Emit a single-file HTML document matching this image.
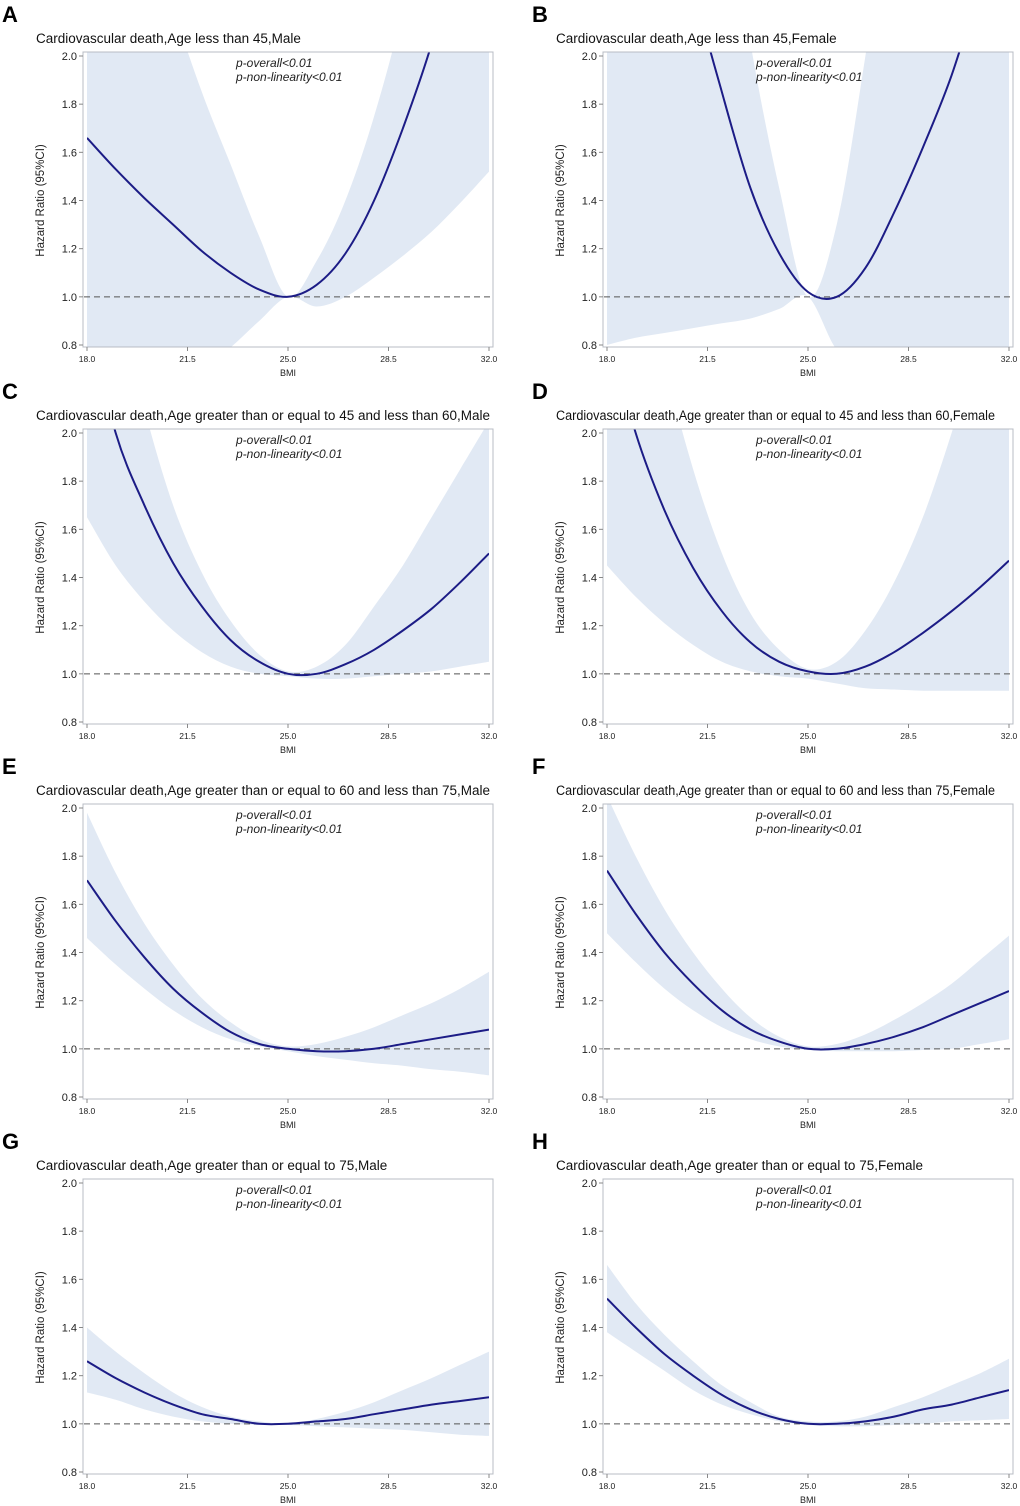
<!DOCTYPE html>
<html><head><meta charset="utf-8">
<style>
body{margin:0;background:#fff;}
svg{display:block;font-family:"Liberation Sans",sans-serif;}
</style></head>
<body>
<svg id="fig" width="1020" height="1506" viewBox="0 0 1020 1506"></svg>
<script>
const bmi = [18,19,20,21,22,23,24,25,26,27,28,29,30,31,32];
const xTicks = [18.0,21.5,25.0,28.5,32.0];
const yTicks = [0.8,1.0,1.2,1.4,1.6,1.8,2.0];
const letters = ["A","B","C","D","E","F","G","H"];
const titles = [
"Cardiovascular death,Age less than 45,Male",
"Cardiovascular death,Age less than 45,Female",
"Cardiovascular death,Age greater than or equal to 45 and less than 60,Male",
"Cardiovascular death,Age greater than or equal to 45 and less than 60,Female",
"Cardiovascular death,Age greater than or equal to 60 and less than 75,Male",
"Cardiovascular death,Age greater than or equal to 60 and less than 75,Female",
"Cardiovascular death,Age greater than or equal to 75,Male",
"Cardiovascular death,Age greater than or equal to 75,Female"];
const estA=[1.66,1.53,1.41,1.30,1.19,1.10,1.03,1.00,1.05,1.18,1.40,1.70,2.05,2.5,3.0];
const upA=[3.6,3.1,2.6,2.2,1.85,1.55,1.25,1.0,1.15,1.4,1.75,2.2,2.8,3.4,4.0];
const loA=[0.3,0.4,0.5,0.6,0.7,0.79,0.9,1.0,0.96,1.0,1.08,1.17,1.27,1.39,1.52];
const estB=[4.5,3.6,2.9,2.3,1.85,1.45,1.18,1.02,1.0,1.12,1.35,1.62,1.92,2.3,2.7];
const upB=[9,7,5,3.8,2.8,2.05,1.45,1.0,1.3,2.0,2.8,3.6,4.5,5.5,6.5];
const loB=[0.8,0.83,0.85,0.87,0.89,0.91,0.95,1.0,0.78,0.7,0.65,0.6,0.56,0.53,0.5];
const estC=[2.5,2.0,1.7,1.46,1.28,1.14,1.05,1.0,1.0,1.04,1.1,1.18,1.27,1.38,1.50];
const upC=[3.2,2.6,2.1,1.7,1.42,1.22,1.08,1.01,1.03,1.12,1.28,1.45,1.65,1.85,2.05];
const loC=[1.65,1.45,1.3,1.18,1.09,1.03,1.0,0.99,0.98,0.98,0.99,1.0,1.01,1.03,1.05];
const estD=[2.45,2.0,1.68,1.44,1.26,1.13,1.05,1.01,1.0,1.03,1.09,1.17,1.26,1.36,1.47];
const upD=[3.5,2.9,2.3,1.85,1.5,1.25,1.1,1.02,1.05,1.18,1.38,1.65,2.0,2.4,2.85];
const loD=[1.45,1.32,1.21,1.12,1.05,1.01,0.99,0.98,0.96,0.94,0.935,0.93,0.93,0.93,0.93];
const estE=[1.70,1.53,1.38,1.25,1.15,1.07,1.02,1.0,0.99,0.99,1.0,1.02,1.04,1.06,1.08];
const upE=[1.98,1.73,1.52,1.35,1.21,1.11,1.04,1.01,1.02,1.05,1.09,1.14,1.19,1.25,1.32];
const loE=[1.46,1.35,1.25,1.16,1.09,1.04,1.01,0.99,0.97,0.955,0.94,0.93,0.915,0.905,0.89];
const estF=[1.74,1.56,1.40,1.27,1.16,1.08,1.03,1.0,1.0,1.02,1.05,1.09,1.14,1.19,1.24];
const upF=[2.05,1.80,1.58,1.40,1.25,1.13,1.05,1.01,1.02,1.06,1.12,1.19,1.27,1.37,1.47];
const loF=[1.48,1.36,1.25,1.16,1.09,1.04,1.01,0.995,0.99,0.99,0.99,0.995,1.0,1.02,1.04];
const estG=[1.26,1.19,1.13,1.08,1.04,1.02,1.0,1.0,1.01,1.02,1.04,1.06,1.08,1.095,1.11];
const upG=[1.40,1.30,1.21,1.13,1.07,1.03,1.01,1.0,1.02,1.05,1.09,1.14,1.19,1.245,1.30];
const loG=[1.13,1.10,1.06,1.03,1.01,1.0,0.995,0.995,0.99,0.985,0.98,0.975,0.965,0.955,0.95];
const estH=[1.52,1.40,1.29,1.20,1.12,1.06,1.02,1.0,1.0,1.01,1.03,1.06,1.08,1.11,1.14];
const upH=[1.66,1.50,1.37,1.26,1.16,1.09,1.03,1.01,1.01,1.03,1.07,1.11,1.16,1.21,1.27];
const loH=[1.38,1.30,1.22,1.14,1.08,1.04,1.01,0.995,0.99,0.99,0.995,1.0,1.01,1.015,1.02];
const ests=[estA,estB,estC,estD,estE,estF,estG,estH];
const ups=[upA,upB,upC,upD,upE,upF,upG,upH];
const los=[loA,loB,loC,loD,loE,loF,loG,loH];

const NS="http://www.w3.org/2000/svg";
const svg=document.getElementById('fig');
function mk(tag,attrs,parent,text){const e=document.createElementNS(NS,tag);for(const k in attrs)e.setAttribute(k,attrs[k]);if(text!==undefined)e.textContent=text;(parent||svg).appendChild(e);return e;}
function smooth(pts){
  let d="M"+pts[0][0].toFixed(1)+","+pts[0][1].toFixed(1);
  for(let i=0;i<pts.length-1;i++){
    const p0=pts[Math.max(0,i-1)],p1=pts[i],p2=pts[i+1],p3=pts[Math.min(pts.length-1,i+2)];
    const c1=[p1[0]+(p2[0]-p0[0])/6,p1[1]+(p2[1]-p0[1])/6];
    const c2=[p2[0]-(p3[0]-p1[0])/6,p2[1]-(p3[1]-p1[1])/6];
    d+="C"+c1[0].toFixed(1)+","+c1[1].toFixed(1)+" "+c2[0].toFixed(1)+","+c2[1].toFixed(1)+" "+p2[0].toFixed(1)+","+p2[1].toFixed(1);
  }
  return d;
}
const defs=mk('defs',{});
for(let p=0;p<8;p++){
  const col=p%2, row=Math.floor(p/2);
  const x0=col?607:87, x1=x0+402;
  const y2=[56,433,808,1183][row], y08=y2+289;
  const sx=v=>x0+(v-18)/14*(x1-x0);
  const sy=v=>y08-(v-0.8)/1.2*(y08-y2);
  const g=mk('g',{});
  
  
  const L=mk('text',{x:col?532:2,y:y2-34,'font-size':22,'font-weight':'bold',fill:'#000'},g,letters[p]);
   
  const T=mk('text',{x:col?556:36,y:y2-13,'font-size':13.5,fill:'#111'},g,titles[p]);
   
  const maxW=col?439:458;
  if(T.getComputedTextLength()>maxW){T.setAttribute('textLength',maxW);T.setAttribute('lengthAdjust','spacingAndGlyphs');}
  const cp=mk('clipPath',{id:'cp'+p},defs);
  mk('rect',{x:x0,y:y2-4,width:x1-x0,height:y08-y2+6},cp);
  const upPts=bmi.map((b,i)=>[sx(b),sy(ups[p][i])]);
  const loPts=bmi.map((b,i)=>[sx(b),sy(los[p][i])]).reverse();
  const band=mk('path',{d:smooth(upPts)+smooth(loPts).replace('M','L')+'Z',fill:'#e1e9f4','clip-path':'url(#cp'+p+')'},g);
   
  const ref=mk('line',{x1:x0-3,x2:x1+4,y1:sy(1.0),y2:sy(1.0),stroke:'#555','stroke-width':1,'stroke-dasharray':'6,4'},g);
   
  const line=mk('path',{d:smooth(bmi.map((b,i)=>[sx(b),sy(ests[p][i])])),fill:'none',stroke:'#1c1c86','stroke-width':2,'clip-path':'url(#cp'+p+')'},g);
   
  const fr=mk('rect',{x:x0-4,y:y2-4,width:x1-x0+8,height:y08-y2+6,fill:'none',stroke:'#b8bcc4','stroke-width':1},g);
   
  yTicks.forEach(v=>{
    mk('line',{x1:x0-8,x2:x0-4,y1:sy(v),y2:sy(v),stroke:'#888'},g);
    const t=mk('text',{x:x0-10,y:sy(v)+4,'font-size':11,'text-anchor':'end',fill:'#222'},g,v.toFixed(1));
     
  });
  xTicks.forEach(v=>{
    mk('line',{x1:sx(v),x2:sx(v),y1:y08+2,y2:y08+6,stroke:'#888'},g);
    const t=mk('text',{x:sx(v),y:y08+17,'font-size':8.5,'text-anchor':'middle',fill:'#222'},g,v.toFixed(1));
     
  });
  const xt=mk('text',{x:(x0+x1)/2,y:y08+31,'font-size':9,'text-anchor':'middle',fill:'#222'},g,'BMI');
   
  const yx=x0-43, yy=(y2+y08)/2;
  const yt=mk('text',{x:yx,y:yy,'font-size':11.5,'text-anchor':'middle',fill:'#222',transform:'rotate(-90 '+yx+' '+yy+')'},g,'Hazard Ratio (95%CI)');
   
  const a1=mk('text',{x:x0+149,y:y2+11,'font-size':12,'font-style':'italic',fill:'#222'},g,'p-overall<0.01');
   
  const a2=mk('text',{x:x0+149,y:y2+25,'font-size':12,'font-style':'italic',fill:'#222'},g,'p-non-linearity<0.01');
   
}
</script>
</body></html>
